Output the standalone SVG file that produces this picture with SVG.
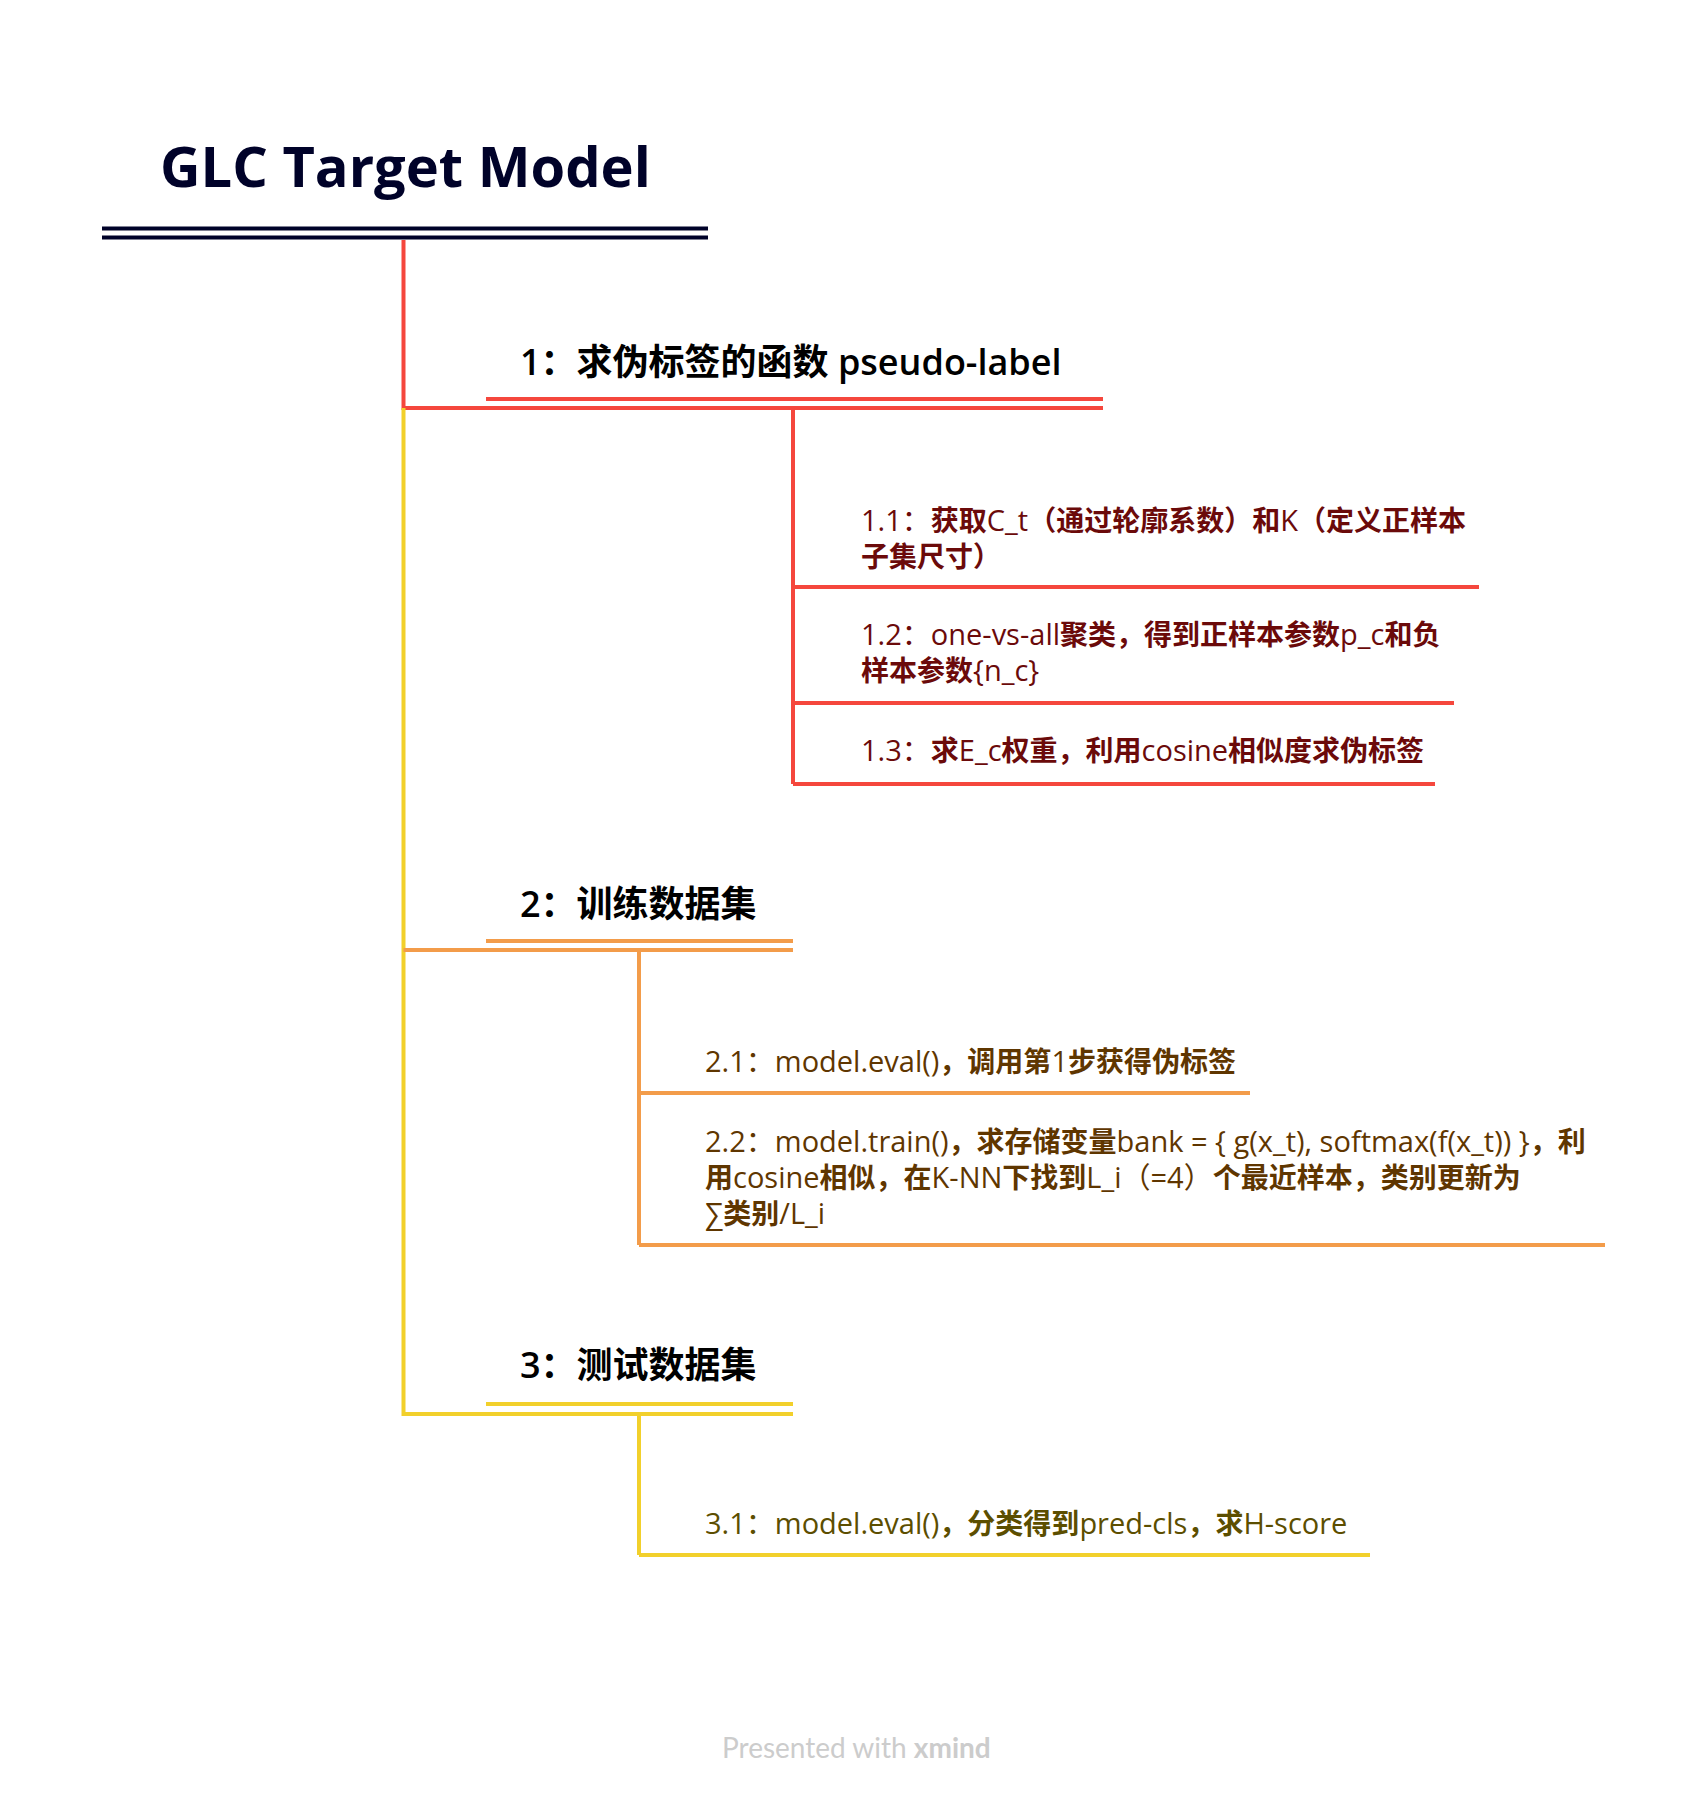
<svg xmlns="http://www.w3.org/2000/svg" width="1706" height="1798" viewBox="0 0 1706 1798">
<style>
text{font-family:"Open Sans","Noto Sans CJK SC",sans-serif}
.title{font-size:56px;font-weight:700;fill:#000229}
.topic{font-size:36px;font-weight:600;fill:#000}
.sub{font-size:29px;font-weight:400}
.b{font-weight:700;font-size:28px}
.s1{fill:#6b0a0a}
.s2{fill:#5f3600}
.s3{fill:#5c4e00}
.ln{fill:none;stroke-width:4}
.red{stroke:#f5473d}
.org{stroke:#f39c4a}
.yel{stroke:#f2d02b}
.navy{stroke:#000229}
.foot{font-size:28px;fill:#cccccc;font-family:Lato,"Open Sans",sans-serif}
</style>
<rect width="1706" height="1798" fill="#fff"/>
<g id="connectors" class="ln">
<path class="red" d="M403.5,240 V408 H486"/>
<path class="yel" d="M403.5,408 V1414 H486"/>
<path class="org" d="M403.5,950 H486"/>
<path class="red" d="M793,408 V784"/>
<path class="org" d="M639,950 V1245"/>
<path class="yel" d="M639,1414 V1555"/>
</g>
<g id="root">
<text class="title" x="160" y="187">GLC Target Model</text>
<path class="ln navy" d="M102,228.5 H708 M102,237.5 H708"/>
</g>
<g id="topic1">
<text class="topic" x="520" y="375">1：求伪标签的函数 pseudo-label</text>
<path class="ln red" d="M486,399 H1103 M486,408 H1103"/>
</g>
<g id="sub1-1">
<text class="sub s1" x="861" y="531">1.1：<tspan class="b">获取</tspan>C_t<tspan class="b">（通过轮廓系数）和</tspan>K<tspan class="b">（定义正样本</tspan></text>
<text class="sub s1 b" x="861" y="567">子集尺寸）</text>
<path class="ln red" d="M793,587 H1479"/>
</g>
<g id="sub1-2">
<text class="sub s1" x="861" y="645">1.2：one-vs-all<tspan class="b">聚类，得到正样本参数</tspan>p_c<tspan class="b">和负</tspan></text>
<text class="sub s1" x="861" y="681"><tspan class="b">样本参数</tspan>{n_c}</text>
<path class="ln red" d="M793,703 H1454"/>
</g>
<g id="sub1-3">
<text class="sub s1" x="861" y="761">1.3：<tspan class="b">求</tspan>E_c<tspan class="b">权重，利用</tspan>cosine<tspan class="b">相似度求伪标签</tspan></text>
<path class="ln red" d="M793,784 H1435"/>
</g>
<g id="topic2">
<text class="topic" x="520" y="917">2：训练数据集</text>
<path class="ln org" d="M486,941 H793 M486,950 H793"/>
</g>
<g id="sub2-1">
<text class="sub s2" x="705" y="1072">2.1：model.eval()<tspan class="b">，调用第</tspan>1<tspan class="b">步获得伪标签</tspan></text>
<path class="ln org" d="M639,1093 H1250"/>
</g>
<g id="sub2-2">
<text class="sub s2" x="705" y="1152">2.2：model.train()<tspan class="b">，求存储变量</tspan>bank = { g(x_t), softmax(f(x_t)) }<tspan class="b">，利</tspan></text>
<text class="sub s2" x="705" y="1188"><tspan class="b">用</tspan>cosine<tspan class="b">相似，在</tspan>K-NN<tspan class="b">下找到</tspan>L_i（=4）<tspan class="b">个最近样本，类别更新为</tspan></text>
<text class="sub s2" x="705" y="1224">∑<tspan class="b">类别</tspan>/L_i</text>
<path class="ln org" d="M639,1245 H1605"/>
</g>
<g id="topic3">
<text class="topic" x="520" y="1378">3：测试数据集</text>
<path class="ln yel" d="M486,1404 H793 M486,1414 H793"/>
</g>
<g id="sub3-1">
<text class="sub s3" x="705" y="1534">3.1：model.eval()<tspan class="b">，分类得到</tspan>pred-cls<tspan class="b">，求</tspan>H-score</text>
<path class="ln yel" d="M639,1555 H1370"/>
</g>
<g id="footer">
<text class="foot" x="722" y="1758">Presented with <tspan font-weight="700">xmind</tspan></text>
</g>
</svg>
